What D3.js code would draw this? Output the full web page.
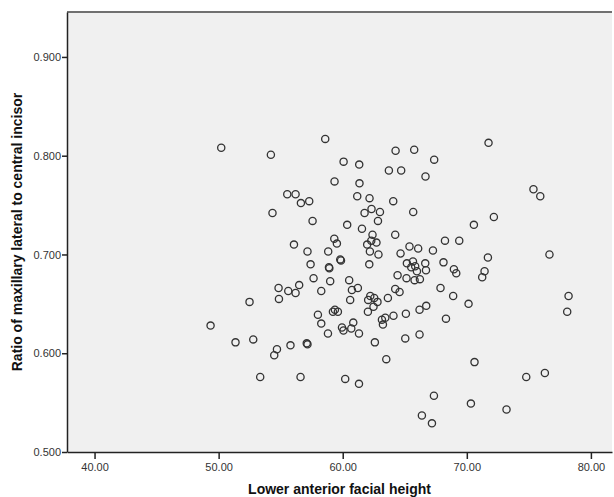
<!DOCTYPE html>
<html>
<head>
<meta charset="utf-8">
<script src="https://cdn.jsdelivr.net/npm/d3@7"></script>
<style>
  body { margin: 0; background: #fff; }
  .tick text { font-family: "Liberation Sans", Arial, sans-serif; font-size: 11px; fill: #333; }
  .axis-title { font-family: "Liberation Sans", Arial, sans-serif; font-weight: bold; font-size: 14px; fill: #111; }
</style>
</head>
<body>
<svg id="chart"></svg>
<script>
// Lower anterior facial height (x) and maxillary lateral / central incisor ratio (y)
const facialHeight = [
  50.21, 54.21, 58.59, 64.26, 65.76, 71.75, 60.07, 61.33, 67.37, 63.72,
  64.71, 66.67, 59.34, 61.35, 61.17, 62.16, 64.07, 57.30, 56.63, 75.37,
  75.92, 62.32, 63.00, 61.76, 65.68, 72.18, 70.57, 57.57, 62.84, 60.36,
  61.55, 64.23, 62.40, 59.32, 59.53, 62.30, 62.72, 61.97, 68.24, 69.39,
  57.16, 58.83, 62.19, 65.38, 66.08, 67.27, 64.66, 62.88, 76.66, 71.70,
  57.41, 58.89, 58.92, 59.80, 59.86, 62.14, 65.17, 65.66, 65.84, 66.65,
  68.12, 66.71, 65.52, 65.98, 68.96, 69.15, 71.43, 71.24, 57.65, 58.99,
  64.42, 65.14, 65.79, 66.22, 60.52, 56.49, 58.27, 60.74, 61.22, 64.23,
  64.58, 67.88, 60.60, 62.05, 62.22, 62.54, 62.80, 63.64, 68.90, 78.20,
  54.83, 55.61, 56.20, 54.86, 52.49, 55.53, 56.20, 54.34, 56.07, 49.35,
  51.36, 52.79, 54.70, 54.48, 55.79, 57.10, 57.16, 53.35, 56.60, 58.00,
  58.27, 58.81, 59.21, 59.37, 59.61, 59.94, 60.06, 60.69, 60.85, 61.31,
  62.03, 62.48, 63.16, 63.43, 63.24, 64.09, 65.09, 66.19, 66.73, 68.32,
  65.04, 66.19, 62.59, 63.51, 60.20, 61.31, 70.62, 74.79, 76.29, 78.09,
  70.14, 67.35, 66.38, 67.19, 70.33, 73.20
];
const incisorRatio = [
  0.808, 0.801, 0.817, 0.805, 0.806, 0.813, 0.794, 0.791, 0.796, 0.785,
  0.785, 0.779, 0.774, 0.772, 0.759, 0.757, 0.754, 0.754, 0.752, 0.766,
  0.759, 0.746, 0.743, 0.742, 0.743, 0.738, 0.730, 0.734, 0.734, 0.730,
  0.726, 0.720, 0.720, 0.716, 0.711, 0.714, 0.712, 0.710, 0.714, 0.714,
  0.703, 0.703, 0.703, 0.708, 0.706, 0.704, 0.701, 0.700, 0.700, 0.697,
  0.690, 0.687, 0.686, 0.695, 0.694, 0.690, 0.691, 0.693, 0.688, 0.691,
  0.692, 0.684, 0.687, 0.683, 0.685, 0.681, 0.683, 0.677, 0.676, 0.673,
  0.679, 0.676, 0.674, 0.675, 0.674, 0.669, 0.663, 0.664, 0.666, 0.665,
  0.662, 0.666, 0.654, 0.654, 0.658, 0.656, 0.652, 0.656, 0.658, 0.658,
  0.666, 0.663, 0.661, 0.655, 0.652, 0.761, 0.761, 0.742, 0.710, 0.628,
  0.611, 0.614, 0.604, 0.598, 0.608, 0.610, 0.609, 0.576, 0.576, 0.639,
  0.630, 0.620, 0.642, 0.644, 0.642, 0.626, 0.623, 0.625, 0.631, 0.620,
  0.642, 0.647, 0.634, 0.636, 0.629, 0.638, 0.640, 0.644, 0.648, 0.635,
  0.615, 0.619, 0.611, 0.594, 0.574, 0.569, 0.591, 0.576, 0.580, 0.642,
  0.650, 0.557, 0.537, 0.529, 0.549, 0.543
];
const xTicks = [40, 50, 60, 70, 80];
const yTicks = [0.5, 0.6, 0.7, 0.8, 0.9];

const width = 614, height = 497;
const margin = {top: 12, right: 2, bottom: 45, left: 67};
const innerW = width - margin.left - margin.right;
const innerH = height - margin.top - margin.bottom;

const svg = d3.select('#chart')
    .attr('width', width)
    .attr('height', height);

const chart = svg.append('g')
    .attr('transform', `translate(${margin.left},${margin.top})`);

const xScale = d3.scaleLinear()
    .domain([37.78, 81.7])
    .range([0, innerW]);

const yScale = d3.scaleLinear()
    .domain([0.5, 0.9455])
    .range([innerH, 0]);

// plot background
chart.append('rect')
    .attr('width', innerW)
    .attr('height', innerH)
    .attr('fill', '#f0f0f0');

// top frame line
chart.append('line')
    .attr('x1', 0).attr('x2', innerW)
    .attr('y1', 0).attr('y2', 0)
    .attr('stroke', '#707070')
    .attr('stroke-width', 2);

const xAxis = d3.axisBottom(xScale)
    .tickValues(xTicks)
    .tickFormat(d3.format('.2f'))
    .tickSize(7)
    .tickSizeOuter(0);

const yAxis = d3.axisLeft(yScale)
    .tickValues(yTicks)
    .tickFormat(d3.format('.3f'))
    .tickSize(5)
    .tickSizeOuter(0);

const xAxisG = chart.append('g')
    .attr('class', 'axis x-axis')
    .attr('transform', `translate(0,${innerH})`)
    .call(xAxis);

const yAxisG = chart.append('g')
    .attr('class', 'axis y-axis')
    .call(yAxis);

[xAxisG, yAxisG].forEach(g => {
  g.select('.domain').attr('stroke', '#222').attr('stroke-width', 1.5);
  g.selectAll('.tick line').attr('stroke', '#222').attr('stroke-width', 1.5);
});
xAxisG.selectAll('.tick text').attr('dy', '0.85em');
yAxisG.selectAll('.tick text').attr('x', -6);

// points
chart.selectAll('.dot')
    .data(facialHeight.map((x, i) => ({x: x, y: incisorRatio[i]})))
  .join('circle')
    .attr('class', 'dot')
    .attr('cx', d => xScale(d.x))
    .attr('cy', d => yScale(d.y))
    .attr('r', 3.6)
    .attr('fill', 'none')
    .attr('stroke', '#333')
    .attr('stroke-width', 1.3);

// axis titles
svg.append('text')
    .attr('class', 'axis-title')
    .attr('x', margin.left + innerW / 2)
    .attr('y', 494)
    .attr('text-anchor', 'middle')
    .text('Lower anterior facial height');

svg.append('text')
    .attr('class', 'axis-title')
    .attr('transform', `translate(22,${margin.top + innerH / 2}) rotate(-90)`)
    .attr('text-anchor', 'middle')
    .text('Ratio of maxillary lateral to central incisor');
</script>
</body>
</html>
